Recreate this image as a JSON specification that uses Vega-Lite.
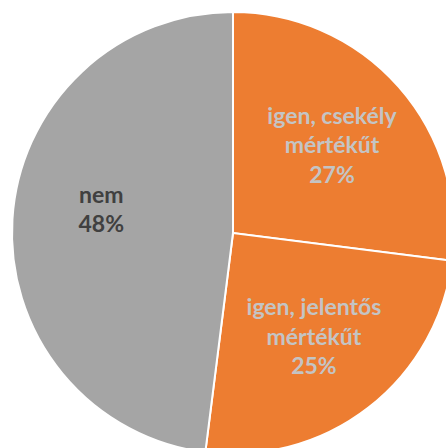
{
  "$schema": "https://vega.github.io/schema/vega-lite/v6.json",
  "width": 466,
  "height": 466,
  "autosize": "none",
  "padding": 0,
  "background": "white",
  "config": {"view": {"stroke": null}},
  "data": {
    "values": [
      {"order": 1, "cat": "igen, csekély mértékűt", "label": "igen, csekély\nmértékűt\n27%", "value": 27},
      {"order": 2, "cat": "igen, jelentős mértékűt", "label": "igen, jelentős\nmértékűt\n25%", "value": 25},
      {"order": 3, "cat": "nem", "label": "nem\n48%", "value": 48}
    ]
  },
  "encoding": {
    "theta": {"field": "value", "type": "quantitative", "stack": true},
    "order": {"field": "order", "type": "ordinal"}
  },
  "layer": [
    {
      "mark": {"type": "arc", "outerRadius": 221, "stroke": "white", "strokeWidth": 2},
      "encoding": {
        "color": {
          "field": "cat",
          "type": "nominal",
          "scale": {"domain": ["igen, csekély mértékűt", "igen, jelentős mértékűt", "nem"], "range": ["#ED7D31", "#ED7D31", "#A5A5A5"]},
          "legend": null
        }
      }
    },
    {
      "mark": {"type": "text", "radius": 132, "dy": -29, "font": "Lato", "fontWeight": "bold", "fontSize": 23, "lineHeight": 29.5, "lineBreak": "\n", "align": "center", "baseline": "middle"},
      "encoding": {
        "text": {"field": "label", "type": "nominal"},
        "color": {"condition": {"test": "datum.cat === 'nem'", "value": "#404040"}, "value": "#C4C4C4"}
      }
    }
  ]
}
